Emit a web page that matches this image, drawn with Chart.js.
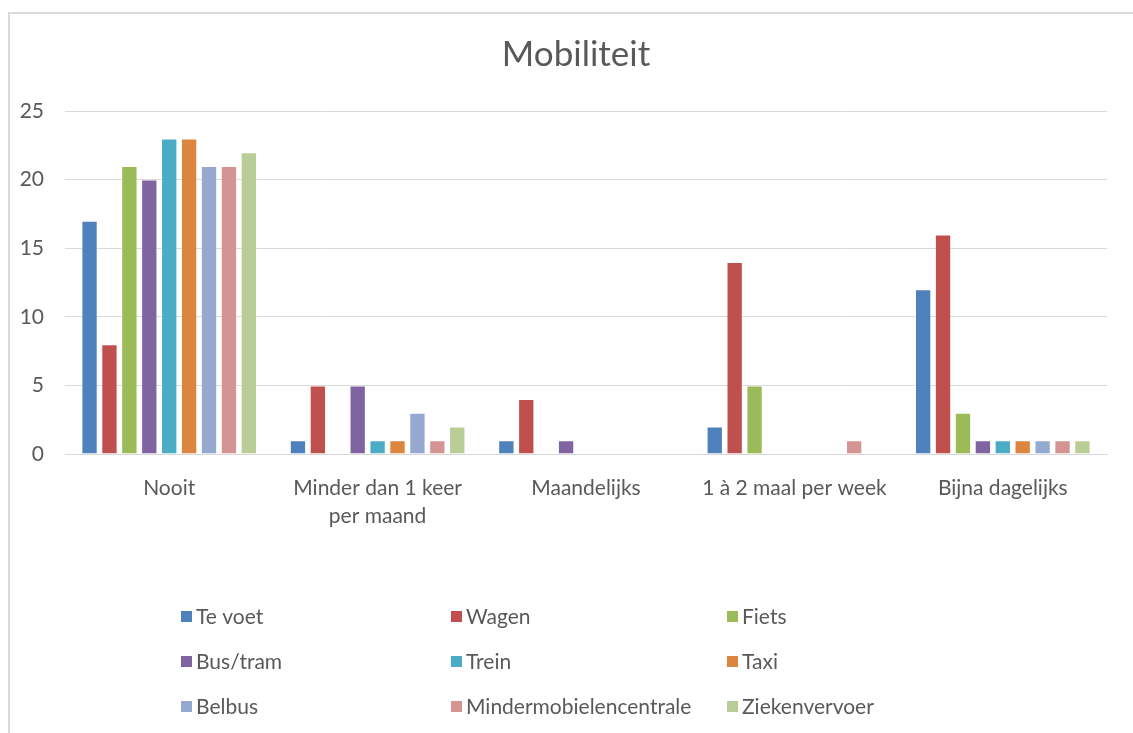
<!DOCTYPE html>
<html>
<head>
<meta charset="utf-8">
<script src="https://cdn.jsdelivr.net/npm/chart.js@4/dist/chart.umd.min.js"></script>
<style>
  body { margin: 0; background: #fff; overflow: hidden; }
  .frame { position: absolute; left: 8px; top: 12px; width: 1140px; height: 740px;
           border-left: 2px solid #d9d9d9; border-top: 2px solid #d9d9d9; }
  canvas { position: absolute; left: 0; top: 0; }
</style>
</head>
<body>
<div class="frame"></div>
<canvas id="myChart" width="1133" height="733"></canvas>
<script>
const categories = [
  'Nooit',
  ['Minder dan 1 keer', 'per maand'],
  'Maandelijks',
  '1 à 2 maal per week',
  'Bijna dagelijks',
];

const teVoet = [17, 1, 1, 2, 12]
const wagen = [8, 5, 4, 14, 16]
const fiets = [21, 0, 0, 5, 3]
const busTram = [20, 5, 1, 0, 1]
const trein = [23, 1, 0, 0, 1]
const taxi = [23, 1, 0, 0, 1]
const belbus = [21, 3, 0, 0, 1]
const mindermobiel = [21, 1, 0, 1, 1]
const ziekenvervoer = [22, 2, 0, 0, 1]

const yTicks = [0, 5, 10, 15, 20, 25]

const textColor = '#595959'
const gridColor = '#d9d9d9'
const font = 'Lato, "Liberation Sans", sans-serif'

const series = [
  { label: 'Te voet', data: teVoet, color: '#4f81bd' },
  { label: 'Wagen', data: wagen, color: '#c0504d' },
  { label: 'Fiets', data: fiets, color: '#9bbb59' },
  { label: 'Bus/tram', data: busTram, color: '#8064a2' },
  { label: 'Trein', data: trein, color: '#4bacc6' },
  { label: 'Taxi', data: taxi, color: '#dc853e' },
  { label: 'Belbus', data: belbus, color: '#95a9d0' },
  { label: 'Mindermobielencentrale', data: mindermobiel, color: '#d39493' },
  { label: 'Ziekenvervoer', data: ziekenvervoer, color: '#b9cd97' },
]

// legend in 3 columns like the Excel original
const gridLegend = {
  id: 'gridLegend',
  afterDraw(chart) {
    const ctx = chart.ctx
    const colX = [181, 451, 727]
    const rowY = [616, 661, 706]
    ctx.save()
    ctx.font = '21px ' + font
    ctx.textBaseline = 'middle'
    chart.data.datasets.forEach((ds, i) => {
      const x = colX[i % 3]
      const y = rowY[Math.floor(i / 3)]
      ctx.fillStyle = ds.backgroundColor
      ctx.fillRect(x, y - 5, 11, 11)
      ctx.fillStyle = textColor
      ctx.fillText(ds.label, x + 15, y + 1)
    })
    ctx.restore()
  }
}

const ctx = document.getElementById('myChart').getContext('2d')

const config = {
  type: 'bar',
  data: {
    labels: categories,
    datasets: series.map(s => ({
      label: s.label,
      data: s.data,
      backgroundColor: s.color,
      borderColor: 'rgba(255,255,255,0.45)',
      borderWidth: 1,
      categoryPercentage: 0.86,
      barPercentage: 0.82,
    }))
  },
  options: {
    responsive: false,
    animation: false,
    layout: { padding: { left: 19, right: 0, top: 0, bottom: 0 } },
    plugins: {
      legend: { display: false },
      tooltip: { enabled: false },
      title: {
        display: true,
        text: 'Mobiliteit',
        color: textColor,
        font: { family: font, size: 35, weight: 'normal', lineHeight: 1.2 },
        padding: { top: 34, bottom: 35 }
      }
    },
    scales: {
      x: {
        grid: { display: false },
        border: { color: gridColor, width: 1 },
        ticks: {
          color: textColor,
          padding: 13,
          maxRotation: 0,
          font: { family: font, size: 21, lineHeight: 1.3 }
        },
        afterFit(scale) { scale.height = 279 }
      },
      y: {
        min: 0,
        max: 25,
        afterBuildTicks(scale) { scale.ticks = yTicks.map(v => ({ value: v })) },
        grid: { color: gridColor, lineWidth: 1, drawTicks: false },
        border: { display: false },
        ticks: {
          color: textColor,
          padding: 21,
          font: { family: font, size: 21 }
        },
        afterFit(scale) { scale.width = 46 }
      },
      // empty right axis, only keeps the right margin
      yRight: {
        position: 'right',
        min: 0,
        max: 25,
        grid: { display: false },
        border: { display: false },
        ticks: { display: false },
        afterFit(scale) { scale.width = 26 }
      }
    }
  },
  plugins: [gridLegend]
}

const myChart = new Chart(ctx, config)
</script>
</body>
</html>
